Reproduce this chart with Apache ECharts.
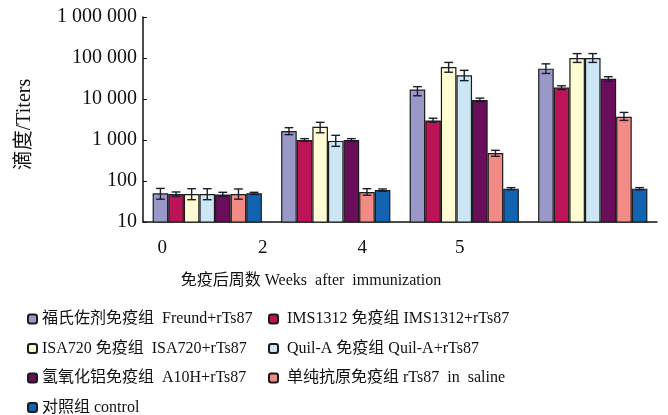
<!DOCTYPE html>
<html>
<head>
<meta charset="utf-8">
<script src="https://cdn.jsdelivr.net/npm/echarts@6/dist/echarts.min.js"></script>
<style>
  html, body { margin: 0; padding: 0; background: #fff; }
  #chart { width: 668px; height: 415px; }
</style>
</head>
<body>
<div id="chart"></div>
<script>
const weeks = ['0', '2', '4', '5'];

const groupNames = [
  '福氏佐剂免疫组  Freund+rTs87',
  'IMS1312 免疫组 IMS1312+rTs87',
  'ISA720 免疫组  ISA720+rTs87',
  'Quil-A 免疫组 Quil-A+rTs87',
  '氢氧化铝免疫组  A10H+rTs87',
  '单纯抗原免疫组 rTs87  in  saline',
  '对照组 control'
];
const groupColors = ['#9a98c9', '#bd1457', '#fffbd2', '#cde6f5', '#6a0e5c', '#f28a86', '#1263b0'];

// titers per group, one value per week
const freund = [50, 1650, 17000, 55000];
const ims1312 = [48, 1000, 3000, 19000];
const isa720 = [48, 2100, 60000, 100000];
const quilA = [48, 950, 38000, 100000];
const a10h = [47, 1000, 9500, 31000];
const saline = [48, 54, 480, 3700];
const control = [50, 60, 65, 65];

// error bar ranges [low, high] per week
const freundErr = [[36, 66], [1350, 2000], [12000, 20000], [42000, 72000]];
const ims1312Err = [[42, 54], [930, 1080], [2700, 3400], [17000, 21000]];
const isa720Err = [[35, 65], [1500, 2700], [45000, 78000], [78000, 128000]];
const quilAErr = [[35, 65], [700, 1300], [28000, 50000], [78000, 128000]];
const a10hErr = [[42, 53], [920, 1080], [8500, 10500], [27000, 35000]];
const salineErr = [[36, 64], [45, 65], [400, 560], [3000, 4700]];
const controlErr = [[47, 53], [56, 64], [61, 69], [61, 69]];

const groupValues = [freund, ims1312, isa720, quilA, a10h, saline, control];
const groupErrors = [freundErr, ims1312Err, isa720Err, quilAErr, a10hErr, salineErr, controlErr];

const yTicks = [10, 100, 1000, 10000, 100000, 1000000];

// label shifts to the left of the category centre, as in the original figure
const labelShift = [45, 73, 102, 133];

const FONT = '"Liberation Serif", "Noto Sans CJK SC", serif';
const CATEGORY_GAP = 0.15;

const chart = echarts.init(document.getElementById('chart'));

const labelRich = {};
labelShift.forEach((s, i) => {
  labelRich['l' + i] = { fontSize: 19, fontFamily: FONT, color: '#111', padding: [0, s * 2, 0, 0] };
});

const barSeries = groupNames.map((name, i) => ({
  name: name,
  type: 'bar',
  data: groupValues[i],
  barGap: '0%',
  barCategoryGap: (CATEGORY_GAP * 100) + '%',
  itemStyle: { color: groupColors[i], borderColor: '#1b1b1b', borderWidth: 1.2 },
  z: 2
}));

const errorSeries = groupNames.map((name, i) => ({
  type: 'custom',
  name: name,
  data: groupErrors[i].map((e, k) => [k, e[0], e[1]]),
  z: 5,
  renderItem: (params, api) => {
    const cat = api.value(0);
    const lo = api.coord([cat, api.value(1)]);
    const hi = api.coord([cat, api.value(2)]);
    const band = api.size([1, 0])[0];
    const groupW = band * (1 - CATEGORY_GAP);
    const barW = groupW / groupNames.length;
    const x = lo[0] - groupW / 2 + barW * (i + 0.5);
    const cap = barW * 0.28;
    const style = { stroke: '#1c1c2c', lineWidth: 1.4 };
    return {
      type: 'group',
      children: [
        { type: 'line', shape: { x1: x, y1: lo[1], x2: x, y2: hi[1] }, style: style },
        { type: 'line', shape: { x1: x - cap, y1: lo[1], x2: x + cap, y2: lo[1] }, style: style },
        { type: 'line', shape: { x1: x - cap, y1: hi[1], x2: x + cap, y2: hi[1] }, style: style }
      ]
    };
  }
}));

const legendText = { fontSize: 16, lineHeight: 16, fontFamily: FONT, color: '#111' };

chart.setOption({
  animation: false,
  backgroundColor: '#fff',
  grid: { left: 143, right: 11, top: 17, bottom: 193 },
  legend: [
    {
      data: [groupNames[0], groupNames[2], groupNames[4], groupNames[6]],
      orient: 'vertical', left: 27, top: 311, padding: 0, height: 130,
      itemWidth: 9, itemHeight: 9, itemGap: 13.5,
      textStyle: legendText
    },
    {
      data: [groupNames[1], groupNames[3], groupNames[5]],
      orient: 'vertical', left: 268, top: 311, padding: 0, height: 130,
      itemWidth: 9, itemHeight: 9, itemGap: 13.5,
      formatter: n => ' ' + n,
      textStyle: legendText
    }
  ],
  xAxis: {
    type: 'category',
    data: weeks,
    name: '免疫后周数 Weeks  after  immunization',
    nameLocation: 'middle',
    nameGap: 51,
    nameTextStyle: { fontSize: 16, fontFamily: FONT, color: '#111', padding: [0, 178, 0, 0] },
    axisLine: { lineStyle: { color: '#111', width: 1.5 } },
    axisTick: { inside: true, length: 3, lineStyle: { color: '#111' } },
    axisLabel: {
      margin: 17,
      formatter: (v, i) => '{l' + i + '|' + v + '}',
      rich: labelRich
    },
    splitLine: { show: false }
  },
  yAxis: {
    type: 'log',
    logBase: 10,
    min: yTicks[0],
    max: yTicks[yTicks.length - 1],
    name: '滴度/Titers',
    nameLocation: 'middle',
    nameGap: 108,
    nameTextStyle: { fontSize: 20, fontFamily: FONT, color: '#111', padding: [0, 10, 0, 0] },
    axisLine: { show: true, lineStyle: { color: '#111', width: 1.5 } },
    axisTick: { show: true, inside: true, length: 4, lineStyle: { color: '#111' } },
    axisLabel: {
      margin: 6,
      fontSize: 20,
      fontFamily: FONT,
      color: '#111',
      formatter: v => String(Math.round(v)).replace(/\B(?=(\d{3})+(?!\d))/g, ' ')
    },
    splitLine: { show: false }
  },
  series: barSeries.concat(errorSeries)
});
</script>
</body>
</html>
